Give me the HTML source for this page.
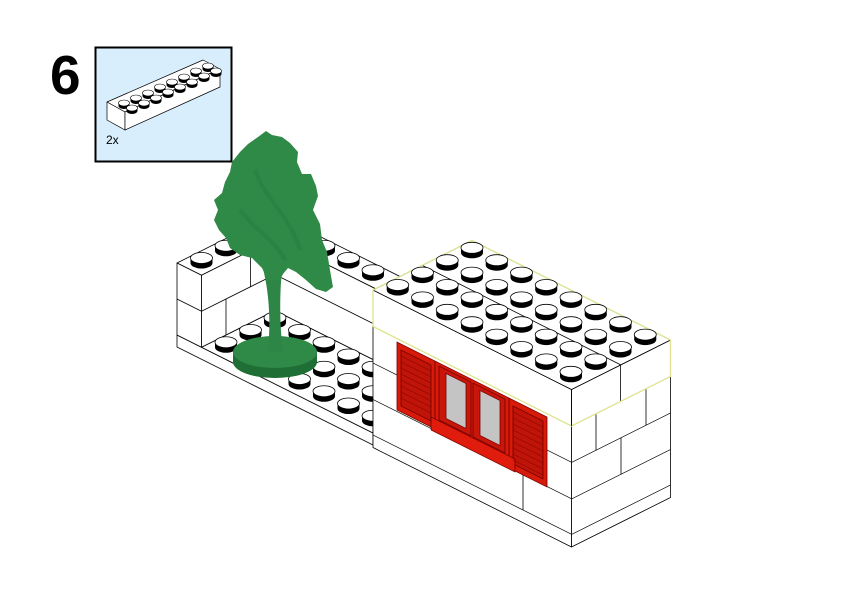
<!DOCTYPE html>
<html><head><meta charset="utf-8"><style>
html,body{margin:0;padding:0;background:#fff;}
svg{display:block;}
</style></head><body>
<svg width="842" height="596" viewBox="0 0 842 596" xmlns="http://www.w3.org/2000/svg">
<defs>
<g id="s"><ellipse cx="0" cy="0" rx="11" ry="5.5" fill="#000"/><rect x="-11" y="-5" width="22" height="5" fill="#000"/><ellipse cx="0" cy="-5" rx="11" ry="5.5" fill="#fff" stroke="#000" stroke-width="0.8"/></g>
<g id="m"><ellipse cx="0" cy="0" rx="5.5" ry="3" fill="#000"/><rect x="-5.5" y="-3" width="11" height="3" fill="#000"/><ellipse cx="0" cy="-3" rx="5.5" ry="3" fill="#fff" stroke="#000" stroke-width="0.6"/></g>
</defs>

<text x="50" y="94" font-family="Liberation Sans, sans-serif" font-weight="bold" font-size="55" fill="#000">6</text>
<rect x="95.5" y="47.5" width="136" height="114" fill="#d8eefc" stroke="#000" stroke-width="2"/>
<g stroke="#000" stroke-width="0.7" fill="#fff" stroke-linejoin="round">
<polygon points="107,102 203,60 220,69 125,112"/>
<polygon points="107,102 125,112 125,130 107,120"/>
<polygon points="125,112 220,69 220,87 125,130"/>
</g>
<g>
<use href="#m" x="208" y="69"/><use href="#m" x="196" y="74"/><use href="#m" x="184" y="80"/><use href="#m" x="172" y="85"/><use href="#m" x="160" y="90"/><use href="#m" x="148" y="96"/><use href="#m" x="136" y="101"/><use href="#m" x="124" y="106"/>
<use href="#m" x="216" y="74"/><use href="#m" x="204" y="79"/><use href="#m" x="192" y="85"/><use href="#m" x="180" y="90"/><use href="#m" x="168" y="95"/><use href="#m" x="156" y="101"/><use href="#m" x="144" y="106"/><use href="#m" x="132" y="111"/>
</g>
<text x="106" y="144" font-family="Liberation Sans, sans-serif" font-size="12" fill="#000">2x</text>

<g stroke="#000" stroke-width="0.8" fill="#fff" stroke-linejoin="round">
<polygon points="177,335 373,433 373,445 177,347"/>
<polygon points="201.5,347.25 275,310.5 373,359.5 373,433"/>
<polygon points="177,263 201.5,275.25 275,238.5 446.5,324.25 471,312 275,214"/>
<polygon points="177,263 201.5,275.25 201.5,347.25 177,335"/>
<polygon points="201.5,275.25 275,238.5 275,310.5 201.5,347.25"/>
<polygon points="275,238.5 446.5,324.25 446.5,396.25 275,310.5"/>
<polyline points="177,299 201.5,311.25 275,274.5 373,323.5" fill="none"/>
<line x1="250.5" y1="250.75" x2="250.5" y2="286.75"/>
<line x1="226" y1="299" x2="226" y2="335"/>
</g>
<use href="#s" x="275" y="226.25"/><use href="#s" x="250.5" y="238.5"/><use href="#s" x="299.5" y="238.5"/>
<use href="#s" x="226" y="250.75"/><use href="#s" x="324" y="250.75"/>
<use href="#s" x="201.5" y="263"/><use href="#s" x="348.5" y="263"/>
<use href="#s" x="373" y="275.25"/>
<use href="#s" x="275" y="322.75"/>
<use href="#s" x="299.5" y="335"/><use href="#s" x="250.5" y="335"/>
<use href="#s" x="324" y="347.25"/><use href="#s" x="275" y="347.25"/><use href="#s" x="226" y="347.25"/>
<use href="#s" x="348.5" y="359.5"/><use href="#s" x="299.5" y="359.5"/><use href="#s" x="250.5" y="359.5"/>
<use href="#s" x="373" y="371.75"/><use href="#s" x="324" y="371.75"/><use href="#s" x="275" y="371.75"/>
<use href="#s" x="348.5" y="384"/><use href="#s" x="299.5" y="384"/>
<use href="#s" x="373" y="396.25"/><use href="#s" x="324" y="396.25"/>
<use href="#s" x="348.5" y="408.5"/>
<use href="#s" x="373" y="420.75"/>

<g>
<ellipse cx="275" cy="362" rx="42" ry="16" fill="#1f6e35"/>
<rect x="233" y="352" width="84" height="10" fill="#1f6e35"/>
<ellipse cx="275" cy="352" rx="42" ry="16" fill="#2f8a47"/>
<path d="M268,352 C271,320 269,290 262,265 L282,270 C280,290 279,320 283,352 Z" fill="#2e8646"/>
<path d="M266,131 L272,135 L282,137 L290,143 L298,152 L297,162 L302,174 L311,174 L316,186 L318,196 L313,210 L320,224 L322,240 L327,252 L329,264 L331,276 L333,287 L326,292 L316,289 L306,280 L296,272 L288,268 L283,274 L280,280 L268,280 L262,268 L252,258 L240,255 L230,248 L226,238 L219,230 L214,220 L218,210 L214,200 L222,193 L225,182 L230,172 L232,162 L240,152 L248,144 L258,137 Z" fill="#2f8a47"/>
<path d="M255,170 C265,200 290,215 300,250 M240,210 C255,230 275,240 285,260" stroke="#247b3d" stroke-width="4" fill="none" opacity="0.5"/>
</g>

<g stroke="#000" stroke-width="0.8" fill="#fff" stroke-linejoin="round">
<polygon points="373,290 571.5,389.5 571.5,547 373,447.5"/>
<polygon points="571.5,389.5 670.5,340 670.5,497.5 571.5,547"/>
<polygon points="373,290 472,240.5 670.5,340 571.5,389.5"/>
</g>
<g transform="matrix(1,0.5,0,1,373,290)" stroke="#000" stroke-width="0.8" fill="none">
<line x1="0" y1="73" x2="198.5" y2="73"/>
<line x1="0" y1="109.5" x2="198.5" y2="109.5"/>
<line x1="0" y1="145" x2="198.5" y2="145"/>
<line x1="150" y1="109.5" x2="150" y2="145"/>
</g>
<g transform="matrix(1,-0.5,0,1,571.5,389.5)" stroke="#000" stroke-width="0.8" fill="none">
<line x1="0" y1="73" x2="99" y2="73"/>
<line x1="0" y1="109.5" x2="99" y2="109.5"/>
<line x1="0" y1="145" x2="99" y2="145"/>
<line x1="49" y1="0" x2="49" y2="36.5"/>
<line x1="24.5" y1="36.5" x2="24.5" y2="73"/>
<line x1="74.5" y1="36.5" x2="74.5" y2="73"/>
<line x1="49.5" y1="73" x2="49.5" y2="109.5"/>
</g>
<line x1="422.5" y1="265.5" x2="621" y2="365" stroke="#000" stroke-width="0.8"/>
<polyline points="373,326.5 373,290 472,240.5 670.5,340 670.5,376.5 571.5,426 373,326.5" fill="none" stroke="#dfe48e" stroke-width="1.3"/>
<line x1="571.5" y1="389.5" x2="571.5" y2="426" stroke="#000" stroke-width="0.8"/>

<use href="#s" x="472" y="252.8"/>
<use href="#s" x="447.25" y="265.2"/><use href="#s" x="496.75" y="265.2"/>
<use href="#s" x="422.5" y="277.6"/><use href="#s" x="472" y="277.6"/><use href="#s" x="521.5" y="277.6"/>
<use href="#s" x="397.75" y="290"/><use href="#s" x="447.25" y="290"/><use href="#s" x="496.75" y="290"/><use href="#s" x="546.25" y="290"/>
<use href="#s" x="422.5" y="302.4"/><use href="#s" x="472" y="302.4"/><use href="#s" x="521.5" y="302.4"/><use href="#s" x="571" y="302.4"/>
<use href="#s" x="447.25" y="314.8"/><use href="#s" x="496.75" y="314.8"/><use href="#s" x="546.25" y="314.8"/><use href="#s" x="595.75" y="314.8"/>
<use href="#s" x="472" y="327.2"/><use href="#s" x="521.5" y="327.2"/><use href="#s" x="571" y="327.2"/><use href="#s" x="620.5" y="327.2"/>
<use href="#s" x="496.75" y="339.6"/><use href="#s" x="546.25" y="339.6"/><use href="#s" x="595.75" y="339.6"/><use href="#s" x="645.25" y="339.6"/>
<use href="#s" x="521.5" y="352"/><use href="#s" x="571" y="352"/><use href="#s" x="620.5" y="352"/>
<use href="#s" x="546.25" y="364.4"/><use href="#s" x="595.75" y="364.4"/>
<use href="#s" x="571" y="376.8"/>

<g transform="matrix(1,0.5,0,1,373,290)" stroke="#6e0000" stroke-width="0.8" stroke-linejoin="round">
<rect x="24" y="40" width="38" height="68" fill="#d81a0a"/>
<rect x="28" y="46" width="30" height="56" fill="#c11408"/>
<rect x="136" y="40" width="38" height="70" fill="#d81a0a"/>
<rect x="140" y="46" width="30" height="58" fill="#c11408"/>
<rect x="62" y="40" width="74" height="60" fill="#d81a0a"/>
<rect x="66" y="43" width="32" height="54" fill="#c8160a"/>
<rect x="100" y="43" width="32" height="54" fill="#c8160a"/>
<rect x="73" y="47" width="20" height="45" fill="#c4c4c4" stroke="#7a0000"/>
<rect x="107" y="47" width="20" height="45" fill="#c4c4c4" stroke="#7a0000"/>
<rect x="58" y="98" width="84" height="13" fill="#e01c0c"/>
<g stroke="#7a0000" stroke-width="0.6">
<line x1="28" y1="52" x2="58" y2="52"/><line x1="28" y1="58" x2="58" y2="58"/><line x1="28" y1="64" x2="58" y2="64"/><line x1="28" y1="70" x2="58" y2="70"/><line x1="28" y1="76" x2="58" y2="76"/><line x1="28" y1="82" x2="58" y2="82"/><line x1="28" y1="88" x2="58" y2="88"/><line x1="28" y1="94" x2="58" y2="94"/>
<line x1="140" y1="52" x2="170" y2="52"/><line x1="140" y1="58" x2="170" y2="58"/><line x1="140" y1="64" x2="170" y2="64"/><line x1="140" y1="70" x2="170" y2="70"/><line x1="140" y1="76" x2="170" y2="76"/><line x1="140" y1="82" x2="170" y2="82"/><line x1="140" y1="88" x2="170" y2="88"/><line x1="140" y1="94" x2="170" y2="94"/><line x1="140" y1="100" x2="170" y2="100"/>
</g>
</g>
</svg>
</body></html>
